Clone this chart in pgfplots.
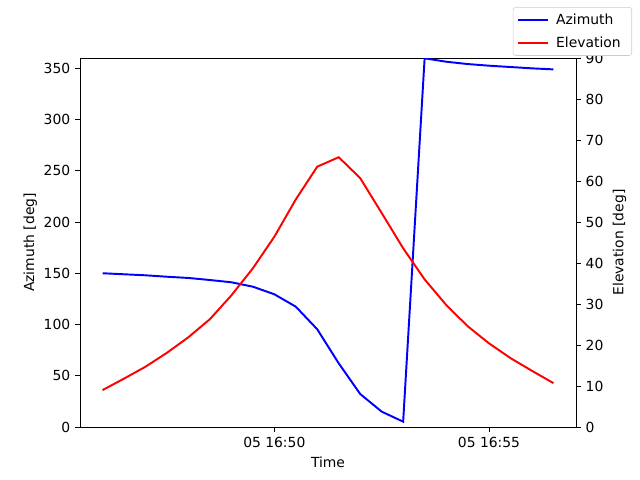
\documentclass[border=0pt]{standalone}
\usepackage{fontspec}
\setmainfont{DejaVu Sans}
\usepackage{pgfplots}
\usepackage{pgfplotstable}
\pgfplotsset{compat=1.18}

% minutes after 16:50, azimuth [deg], elevation [deg]
\pgfplotstableread{
t    az    el
-4.0 150.0 9.0
-3.5 149.0 11.8
-3.0 148.0 14.7
-2.5 146.6 18.1
-2.0 145.4 21.9
-1.5 143.4 26.3
-1.0 141.2 32.1
-0.5 136.9 38.7
0.0  129.5 46.4
0.5  117.4 55.5
1.0  95.3  63.5
1.5  62.1  65.8
2.0  32.2  60.7
2.5  15.0  52.2
3.0  5.2   43.6
3.5  359.7 36.0
4.0  356.4 29.8
4.5  354.1 24.6
5.0  352.5 20.4
5.5  351.2 16.8
6.0  349.9 13.7
6.5  348.9 10.7
}\track

\pgfplotsset{
  common/.style={
    at={(57.6bp,38.16bp)}, anchor=south west,
    scale only axis, width=357.12bp, height=265.68bp,
    xmin=-4.525, xmax=7.025,
    tick align=outside, major tick length=3.5bp,
    every tick/.style={black, line width=0.6bp},
    axis line style={line width=0.6bp},
    /pgf/number format/assume math mode=true,
    tick label style={font=\fontsize{10bp}{12bp}\selectfont},
    label style={font=\fontsize{10bp}{12bp}\selectfont},
  }
}

\begin{document}
\begin{tikzpicture}
\path[use as bounding box] (0,0) rectangle (460.8bp,345.6bp);
\begin{axis}[common,
  ymin=0, ymax=360, ytick={0,50,...,350},
  xtick={0,5}, xticklabels={05 16:50, 05 16:55},
  xtick pos=bottom, ytick pos=left,
  xlabel={Time}, ylabel={Azimuth [deg]},
  ylabel style={yshift=-2bp},
]
\addplot[blue, line width=1.4bp] table[x=t, y=az] {\track};
\end{axis}
\begin{axis}[common,
  ymin=0, ymax=90, ytick={0,10,...,90},
  axis x line=none, axis y line*=right,
  ylabel={Elevation [deg]},
  legend style={at={(1.113,1.138)}, anchor=north east,
    draw=black!20, rounded corners=2bp, fill=white,
    font=\fontsize{10bp}{12bp}\selectfont,
    inner xsep=3bp, inner ysep=2.5bp, row sep=3.5bp,
    nodes={inner xsep=5bp}},
  legend cell align=left,
  legend image code/.code={\draw[#1] (-1bp,0bp) -- (20.6bp,0bp);},
]
\addlegendimage{blue, line width=1.4bp}
\addlegendentry{Azimuth}
\addplot[red, line width=1.4bp] table[x=t, y=el] {\track};
\addlegendentry{Elevation}
\end{axis}
\end{tikzpicture}
\end{document}
